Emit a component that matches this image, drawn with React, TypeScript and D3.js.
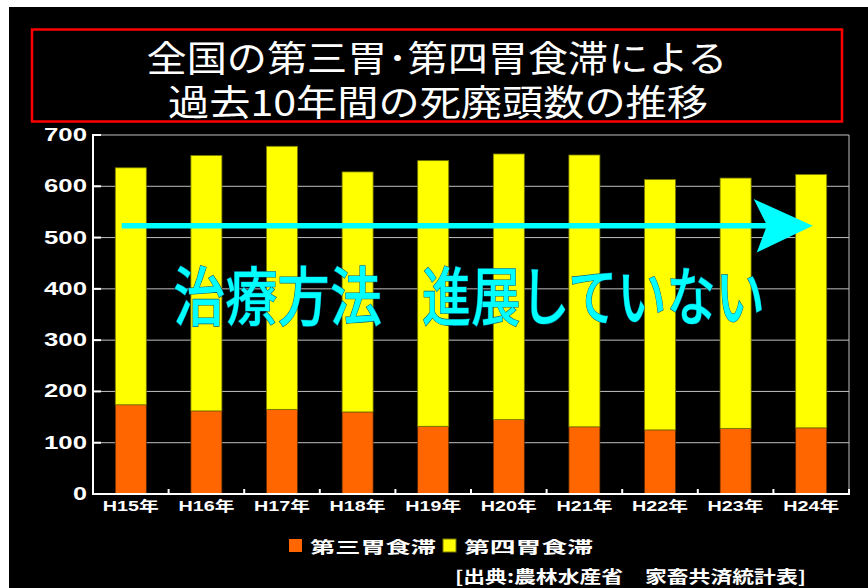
import React from "react";
import * as d3 from "d3";

const categories = ["H15年", "H16年", "H17年", "H18年", "H19年", "H20年", "H21年", "H22年", "H23年", "H24年"];
const thirdStomach = [174, 162, 165, 160, 132, 145, 131, 125, 128, 129];
const fourthStomach = [462, 498, 513, 468, 518, 518, 530, 488, 488, 494];
const yTicks = [0, 100, 200, 300, 400, 500, 600, 700];
const seriesNames = ["第三胃食滞", "第四胃食滞"];
const seriesColors = ["#FF6600", "#FFFF00"];
const titleLines = ["全国の第三胃･第四胃食滞による", "過去10年間の死廃頭数の推移"];
const annotationParts = ["治療方法", "進展していない"];
const source = "[出典:農林水産省　家畜共済統計表]";

const W = 868;
const H = 588;
const plot = { left: 93, right: 849, top: 135, bottom: 494 };

export default function App() {
  const x = d3.scaleBand<string>().domain(categories).range([plot.left, plot.right]).paddingInner(0.59).paddingOuter(0.295);
  const y = d3.scaleLinear().domain([0, 700]).range([plot.bottom, plot.top]);
  const step = x.step();
  const jp = "'Noto Sans CJK JP', 'Noto Sans', sans-serif";
  const latin = "'Liberation Sans', Arial, 'Noto Sans CJK JP', sans-serif";

  // arrow annotation in data space
  const arrowY = y(523);
  const half = (y(0) - y(10.5)) / 2;
  const xStart = plot.left + step * 0.38;
  const xShaftEnd = plot.left + step * 8.9;
  const xTip = plot.left + step * 9.52;
  const xBack = plot.left + step * 8.74;
  const headUp = y(0) - y(52);
  const arrowPts: [number, number][] = [
    [xStart, arrowY - half],
    [xShaftEnd, arrowY - half],
    [xBack, arrowY - headUp],
    [xTip, arrowY],
    [xBack + 3, arrowY + headUp],
    [xShaftEnd, arrowY + half],
    [xStart, arrowY + half],
  ];

  return (
    <div style={{ position: "fixed", left: 0, top: 0 }}>
      <svg width={W} height={H} style={{ display: "block" }}>
        <rect x={0} y={0} width={W} height={H} fill="#ffffff" />
        <rect x={9} y={7} width={W - 9} height={H - 7} fill="#000000" />
        {/* title box */}
        <rect x={32} y={29.5} width={810} height={92} fill="none" stroke="#ff0000" strokeWidth={2.5} />
        <text x={437} y={56} textAnchor="middle" dominantBaseline="central" fill="#fff" fontFamily={jp} fontSize={36} textLength={581} lengthAdjust="spacingAndGlyphs">
          {titleLines[0]}
        </text>
        <text x={438} y={100} textAnchor="middle" dominantBaseline="central" fill="#fff" fontFamily={jp} fontSize={36} textLength={540} lengthAdjust="spacingAndGlyphs">
          {titleLines[1]}
        </text>

        {/* gridlines */}
        {yTicks.filter((t) => t > 0).map((t) => (
          <line key={"g" + t} x1={plot.left} x2={plot.right} y1={y(t)} y2={y(t)} stroke="#c0c0c0" strokeWidth={1} />
        ))}
        <line x1={plot.right} x2={plot.right} y1={y(700)} y2={y(0)} stroke="#c0c0c0" strokeWidth={1} />

        {/* bars */}
        {categories.map((c, i) => {
          const bx = x(c)!;
          const bw = x.bandwidth();
          return (
            <g key={c}>
              <rect x={bx} y={y(thirdStomach[i])} width={bw} height={y(0) - y(thirdStomach[i])} fill={seriesColors[0]} stroke="#5a2a00" strokeWidth={0.7} />
              <rect x={bx} y={y(thirdStomach[i] + fourthStomach[i])} width={bw} height={y(thirdStomach[i]) - y(thirdStomach[i] + fourthStomach[i])} fill={seriesColors[1]} stroke="#7a7a00" strokeWidth={0.8} />
            </g>
          );
        })}

        {/* axes */}
        <line x1={plot.left} x2={plot.left} y1={y(700) - 1} y2={y(0) + 1} stroke="#fff" strokeWidth={2} />
        <line x1={plot.left - 1} x2={plot.right + 1} y1={y(0)} y2={y(0)} stroke="#fff" strokeWidth={2} />
        {yTicks.map((t) => (
          <g key={"t" + t}>
            <line x1={plot.left} x2={plot.left + 8} y1={y(t)} y2={y(t)} stroke="#fff" strokeWidth={2} />
            <text x={87} y={y(t)} textAnchor="end" dominantBaseline="central" fill="#fff" fontFamily={latin} fontWeight="bold" fontSize={18} textLength={t === 0 ? 14 : 43} lengthAdjust="spacingAndGlyphs">
              {t}
            </text>
          </g>
        ))}
        {categories.map((c, i) => (
          <g key={"x" + c}>
            <line x1={plot.left + step * (i + 1)} x2={plot.left + step * (i + 1)} y1={y(0)} y2={y(0) - 5} stroke="#fff" strokeWidth={2} />
            <text x={x(c)! + x.bandwidth() / 2} y={506} textAnchor="middle" dominantBaseline="central" fill="#fff" fontFamily={latin} fontWeight="bold" fontSize={14} textLength={56} lengthAdjust="spacingAndGlyphs">
              {c}
            </text>
          </g>
        ))}

        {/* annotation arrow */}
        <polygon points={arrowPts.map((p) => p.join(",")).join(" ")} fill="#00ffff" />
        <text x={173} y={292} dominantBaseline="central" fill="#00ffff" stroke="#0a5a7a" strokeWidth={1.2} paintOrder="stroke" fontFamily={jp} fontWeight={500} fontSize={64} textLength={209} lengthAdjust="spacingAndGlyphs">
          {annotationParts[0]}
        </text>
        <text x={422} y={292} dominantBaseline="central" fill="#00ffff" stroke="#0a5a7a" strokeWidth={1.2} paintOrder="stroke" fontFamily={jp} fontWeight={500} fontSize={64} textLength={343} lengthAdjust="spacingAndGlyphs">
          {annotationParts[1]}
        </text>

        {/* legend */}
        <rect x={289} y={539} width={13} height={13} fill={seriesColors[0]} />
        <text x={310} y={546} dominantBaseline="central" fill="#fff" fontFamily={jp} fontWeight={700} fontSize={16} textLength={126} lengthAdjust="spacingAndGlyphs">
          {seriesNames[0]}
        </text>
        <rect x={443} y={539} width={13} height={13} fill={seriesColors[1]} stroke="#7a7a00" strokeWidth={1} />
        <text x={464} y={546} dominantBaseline="central" fill="#fff" fontFamily={jp} fontWeight={700} fontSize={16} textLength={129} lengthAdjust="spacingAndGlyphs">
          {seriesNames[1]}
        </text>
        <text x={455} y={575} dominantBaseline="central" fill="#fff" fontFamily={jp} fontWeight={700} fontSize={17} textLength={351} lengthAdjust="spacingAndGlyphs">
          {source}
        </text>
      </svg>
    </div>
  );
}
